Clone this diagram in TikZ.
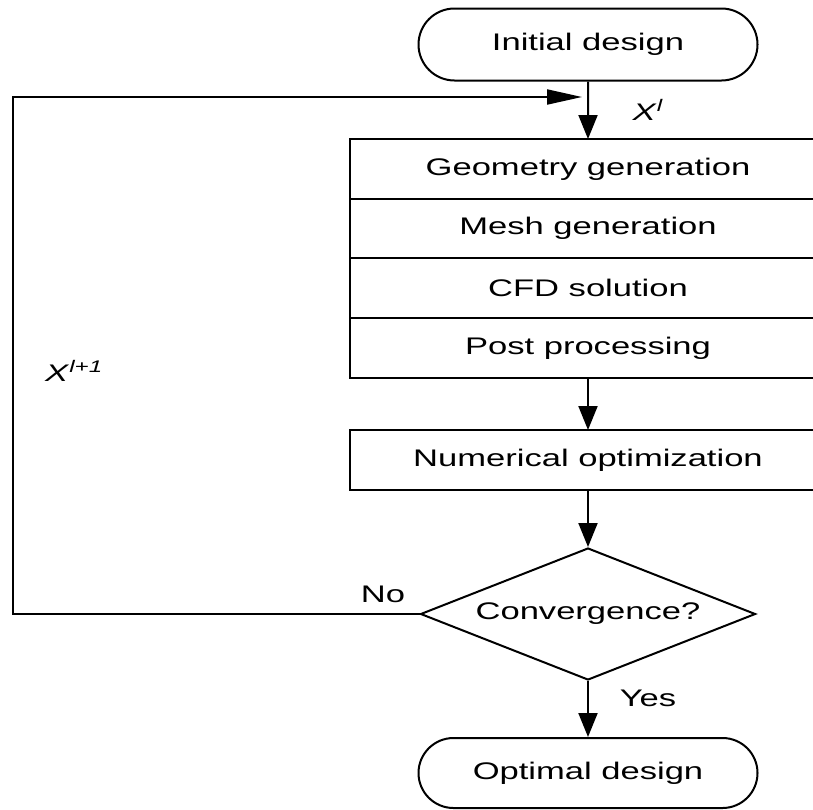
\documentclass[tikz,border=0pt]{standalone}
\usepackage{fontspec}
\setmainfont{Liberation Sans}[FakeStretch=1.44]
\usetikzlibrary{arrows.meta,positioning,shapes.geometric,shapes.misc}

\begin{document}
\begin{tikzpicture}[x=1pt, y=-1pt, font=\fontsize{24}{28}\selectfont, line width=2pt,
  terminal/.style={draw, rounded rectangle, minimum width=339pt, minimum height=72pt, inner sep=0pt},
  stage/.style={draw, rectangle, minimum width=476pt, minimum height=60pt, inner sep=0pt, outer sep=0pt},
  test/.style={draw, diamond, aspect=2.54, minimum width=335pt, minimum height=132pt, inner sep=0pt},
  flow/.style={-{Triangle[length=24pt, width=19pt]}},
  back/.style={-{Triangle[length=35pt, width=15pt]}}]
  \useasboundingbox (0,0) rectangle (813,809);
  \clip (0,0) rectangle (813,809);
  % start and the analysis chain
  \node[terminal] (init) at (588,44.5) {Initial design};
  \node[stage] (geo) at (588,169) {Geometry generation};
  \node[stage, below=0pt of geo, minimum height=59pt] (mesh) {Mesh generation};
  \node[stage, below=0pt of mesh] (cfd) {CFD solution};
  \node[stage, below=0pt of cfd] (post) {Post processing};
  \node[stage] (num) at (588,460) {Numerical optimization};
  % check and end
  \node[test] (conv) at (588,614) {Convergence?};
  \node[terminal, minimum height=70pt] (opt) at (588,773) {Optimal design};
  \draw[flow] (init) -- (geo);
  \draw[flow] (post) -- (num);
  \draw[flow] (num) -- (conv);
  \draw[flow] (conv) -- (opt);
  % loop back with new design vector
  \coordinate (ret) at (13,97);
  \coordinate (join) at (582,97);
  \draw[back] (conv.west) -| (ret) -- (join);
  \node (no) at (383,594) {No};
  \node (yes) at (648,698) {Yes};
  \node (xl) at (648,110) {\textit{X}\textsuperscript{\textit{l}}};
  \node (xnext) at (74,371) {\textit{X}\textsuperscript{\textit{l+1}}};
\end{tikzpicture}
\end{document}
